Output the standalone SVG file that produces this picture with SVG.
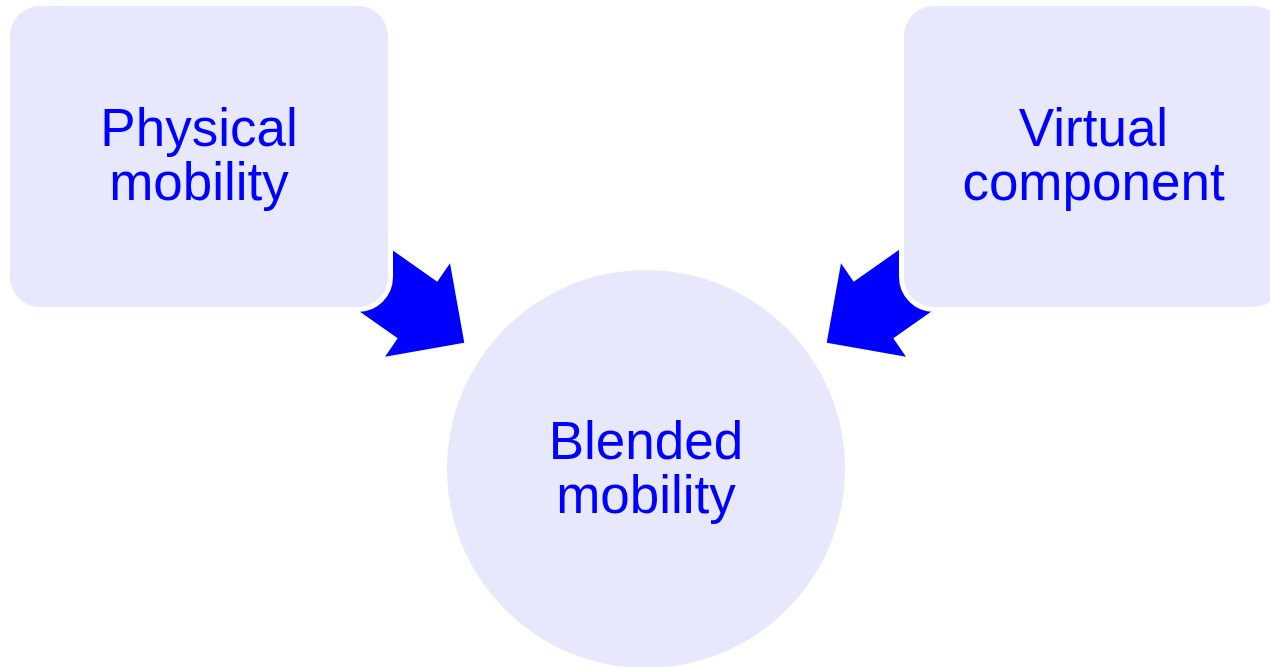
<svg xmlns="http://www.w3.org/2000/svg" width="1270" height="667" viewBox="0 0 1270 667">
  <style>
    .node { fill: #e8e8fc; stroke: #ffffff; stroke-width: 10; paint-order: stroke; }
    .label { font-family: "Liberation Sans", Arial, sans-serif; font-size: 53px; fill: #0000ff; text-anchor: middle; }
    .arrow { fill: #0000ff; stroke: none; }
  </style>
  <rect width="1270" height="667" fill="#ffffff"/>

  <!-- block arrows, drawn first so the boxes sit over their tails -->
  <g id="connectors">
    <polygon class="arrow" points="363.7,230 437.3,281.7 450,263.3 464.3,342.7 385,356.7 397.7,338.3 324,286.5"/>
    <polygon class="arrow" points="927.3,230 853.7,281.7 841,263.3 826.7,342.7 906,356.7 893.3,338.3 967,286.5"/>
  </g>

  <g id="physical">
    <rect class="node" x="10" y="6" width="378" height="301" rx="30" ry="30"/>
    <text class="label" x="199" y="146">Physical</text>
    <text class="label" x="199" y="200">mobility</text>
  </g>

  <g id="virtual">
    <rect class="node" x="904" y="6" width="379" height="301" rx="30" ry="30"/>
    <text class="label" x="1093.5" y="146">Virtual</text>
    <text class="label" x="1093.5" y="200">component</text>
  </g>

  <g id="blended">
    <circle class="node" cx="646" cy="469" r="199" style="stroke:none"/>
    <text class="label" x="646" y="459">Blended</text>
    <text class="label" x="646" y="513">mobility</text>
  </g>
</svg>
